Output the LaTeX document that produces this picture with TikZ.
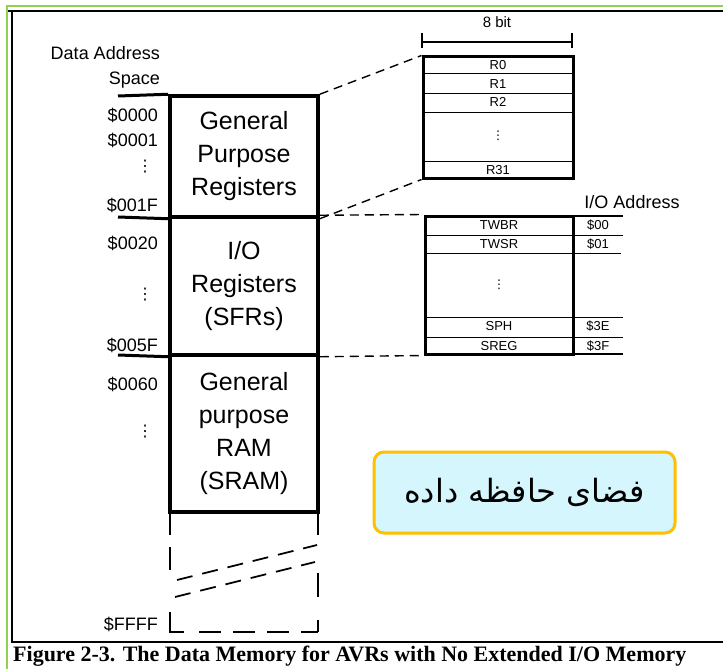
\documentclass[tikz,border=0pt]{standalone}
\usepackage{fontspec}
\setmainfont{Liberation Sans}
\newfontfamily\capfont{Liberation Serif}
\newfontfamily\symfont{DejaVu Sans}
\newfontfamily\arabicfont[Script=Arabic]{DejaVu Sans}
\TeXXeTstate=1
\definecolor{framegreen}{RGB}{146,208,80}
\definecolor{boxgold}{RGB}{255,192,0}
\definecolor{boxcyan}{RGB}{212,246,252}
\begin{document}
\begin{tikzpicture}[x=1pt,y=-1pt,
  memblock/.style={draw, line width=3.5pt, minimum width=148pt, align=center,
    font=\fontsize{25}{33}\selectfont, inner sep=0pt},
  bigbox/.style={draw, line width=3pt, inner sep=0pt},
  addrlbl/.style={anchor=east, inner sep=0pt, font=\fontsize{18}{20}\selectfont},
  vdot/.style={inner sep=0pt, font=\symfont\fontsize{16}{18}\selectfont},
  smalldot/.style={inner sep=0pt, font=\symfont\fontsize{12}{14}\selectfont},
  reglbl/.style={inner sep=0pt, font=\fontsize{13}{15}\selectfont},
  thinrow/.style={line width=1pt},
  conn/.style={line width=1.4pt, dash pattern=on 9pt off 6pt},
  brk/.style={line width=1.8pt, dash pattern=on 16pt off 10pt},
  farbox/.style={draw=boxgold, fill=boxcyan, line width=3pt, rounded corners=10pt,
    minimum width=301pt, minimum height=81pt, inner sep=0pt}]
\useasboundingbox (0,0) rectangle (723,669);
\fill[white] (0,0) rectangle (723,669);
% frame
\draw[framegreen, line width=2.5pt] (7,669) -- (7,6) -- (723,6);
\draw[line width=2pt] (8,11) -- (723,11);
\draw[line width=2pt] (12,11) -- (12,642) -- (723,642);
\node[anchor=west, inner sep=0pt, font=\capfont\bfseries\fontsize{22}{24}\selectfont] (cap) at (13,656)
  {Figure 2-3. The Data Memory for AVRs with No Extended I/O Memory};

% left labels
\node[addrlbl] (das) at (160,53) {Data Address};
\node[addrlbl] (spc) at (160,80) {Space};
\node[addrlbl] (a0) at (158,115) {\$0000};
\node[addrlbl] (a1) at (158,140) {\$0001};
\node[vdot] (d1) at (145,167) {⋮};
\node[addrlbl] (a1f) at (158,205) {\$001F};
\node[addrlbl] (a20) at (158,243) {\$0020};
\node[vdot] (d2) at (145,295) {⋮};
\node[addrlbl] (a5f) at (158,345) {\$005F};
\node[addrlbl] (a60) at (158,384) {\$0060};
\node[vdot] (d3) at (145,432) {⋮};
\node[addrlbl] (aff) at (158,624) {\$FFFF};

% main column
\node[memblock, minimum height=121pt] (gpr) at (244,156.5) {General\\Purpose\\Registers};
\node[memblock, minimum height=138pt] (io) at (244,286) {I/O\\Registers\\(SFRs)};
\node[memblock, minimum height=157pt] (ram) at (244,433.5) {General\\purpose\\RAM\\(SRAM)};
\draw[line width=3pt] (118,96) -- (gpr.north west);
\draw[line width=3pt] (118,217) -- (gpr.south west);
\draw[line width=3pt] (118,355) -- (io.south west);

% bottom broken part
\draw[line width=2pt] (170,512) -- (170,535);
\draw[line width=2pt] (170,547) -- (170,570);
\draw[line width=2pt] (318,512) -- (318,535);
\draw[line width=2pt] (318,573) -- (318,597);
\draw[line width=2pt] (318,620) -- (318,632);
\draw[line width=2pt] (170,612) -- (170,632) -- (184,632);
\draw[line width=2pt, dash pattern=on 22pt off 12pt] (199,632) -- (318,632);
\draw[brk] (177,580) -- (317,545);
\draw[brk] (175,597) -- (315,562);

% register file
\node[bigbox, minimum width=150pt, minimum height=121pt] (regs) at (498,117.5) {};
\draw[thinrow] (423,74) -- (573,74);
\draw[thinrow] (423,93) -- (573,93);
\draw[thinrow] (423,112) -- (573,112);
\draw[thinrow] (423,161) -- (573,161);
\node[reglbl] (r0) at (498,65) {R0};
\node[reglbl] (r1) at (498,84) {R1};
\node[reglbl] (r2) at (498,102) {R2};
\node[smalldot] (rd) at (498,136) {⋮};
\node[reglbl] (r31) at (498,170) {R31};
% 8 bit dimension
\coordinate (bl) at (422,42);
\coordinate (br) at (572,42);
\draw[line width=1.3pt] (bl) -- (br);
\draw[line width=1.3pt] (422,33) -- (422,48);
\draw[line width=1.3pt] (572,33) -- (572,48);
\node[inner sep=0pt, font=\fontsize{15}{17}\selectfont] (eb) at (497,22) {8 bit};

% I/O registers
\node[bigbox, minimum width=148pt, minimum height=138pt] (iob) at (499,285) {};
\draw[line width=2.5pt] (573,216) -- (623,216);
\draw[line width=2.5pt] (573,354) -- (623,354);
\draw[thinrow] (425,235) -- (623,235);
\draw[thinrow] (425,253) -- (621,253);
\draw[thinrow] (425,317) -- (623,317);
\draw[thinrow] (425,337) -- (623,337);
\node[reglbl] (twbr) at (499,225) {TWBR};
\node[reglbl] (twsr) at (499,244) {TWSR};
\node[smalldot] (iod) at (499,285) {⋮};
\node[reglbl] (sph) at (499,326) {SPH};
\node[reglbl] (sreg) at (499,346) {SREG};
\node[reglbl] (h00) at (598,225) {\$00};
\node[reglbl] (h01) at (598,244) {\$01};
\node[reglbl] (h3e) at (598,326) {\$3E};
\node[reglbl] (h3f) at (598,346) {\$3F};
\node[inner sep=0pt, font=\fontsize{18}{20}\selectfont] (ioa) at (632,202) {I/O Address};

% connectors
\draw[conn] (gpr.north east) -- (regs.north west);
\draw[conn] (gpr.south east) -- (regs.south west);
\draw[conn] (io.north east) -- (iob.north west);
\draw[conn] (io.south east) -- (iob.south west);

% Persian label
\node[farbox, font=\arabicfont\fontsize{32}{34}\selectfont] (fa) at (524.5,492.5) {\beginR فضای حافظه داده\endR};
\end{tikzpicture}
\end{document}
